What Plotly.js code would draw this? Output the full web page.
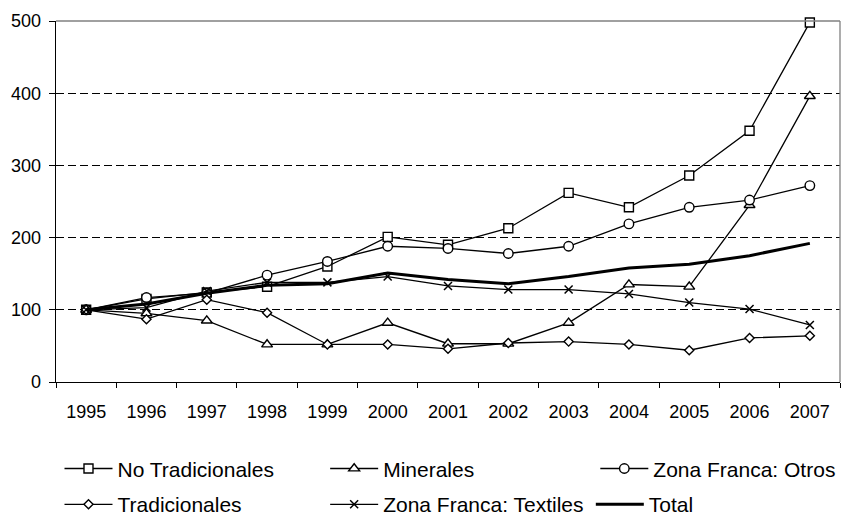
<!DOCTYPE html>
<html>
<head>
<meta charset="utf-8">
<script src="https://cdn.plot.ly/plotly-3.0.1.min.js"></script>
<style>html,body{margin:0;padding:0;background:#fff;}#chart{width:843px;height:527px;}</style>
</head>
<body>
<div id="chart"></div>
<script>
const years = ['1995','1996','1997','1998','1999','2000','2001','2002','2003','2004','2005','2006','2007'];
const noTradicionales = [100, 115, 124, 132, 160, 201, 190, 213, 262, 242, 286, 348, 498];
const minerales       = [100, 95, 85, 52, 52, 82, 53, 53, 82, 135, 132, 245, 396];
const zfOtros         = [100, 117, 123, 148, 167, 188, 185, 178, 188, 219, 242, 252, 272];
const tradicionales   = [100, 87, 114, 96, 52, 52, 46, 54, 56, 52, 44, 61, 64];
const zfTextiles      = [100, 103, 126, 138, 138, 146, 133, 128, 128, 122, 110, 101, 79];
const total           = [100, 108, 123, 134, 136, 151, 142, 136, 146, 158, 163, 175, 192];

const FONT = 'Liberation Sans, Arial, sans-serif';
const L0 = 56.5, PW = 785, B0 = 391, PH = 370;
function px(x){ return (x - L0) / PW; }
function py(y){ return (B0 - y) / PH; }

function mk(name, y, symbol, size, legend, lw) {
  return {
    type: 'scatter', mode: 'lines+markers', name: name, x: years, y: y,
    line: {color: '#000', width: 1.3},
    marker: {symbol: symbol, size: size, color: '#fff', line: {color: '#000', width: lw || 1.4}},
    legend: legend, cliponaxis: false
  };
}

const traces = [
  mk('No Tradicionales', noTradicionales, 'square', 9, 'legend'),
  mk('Minerales', minerales, 'triangle-up', 9.5, 'legend2'),
  mk('Zona Franca: Otros', zfOtros, 'circle', 9.5, 'legend3'),
  mk('Tradicionales', tradicionales, 'diamond', 7, 'legend4'),
  mk('Zona Franca: Textiles', zfTextiles, 'x-thin', 8, 'legend5', 1.5),
  {type: 'scatter', mode: 'lines', name: 'Total', x: years, y: total,
   line: {color: '#000', width: 3}, legend: 'legend6'}
];

function leg(xl, yc) {
  return {x: px(xl), y: py(yc), xanchor: 'left', yanchor: 'middle', xref: 'paper', yref: 'paper',
    font: {family: FONT, size: 21, color: '#000'}, bgcolor: 'rgba(0,0,0,0)', borderwidth: 0,
    itemwidth: 48, tracegroupgap: 0};
}

const layout = {
  width: 843, height: 527,
  margin: {l: 56.5, r: 1.5, t: 21, b: 136},
  paper_bgcolor: '#fff', plot_bgcolor: '#fff',
  font: {family: FONT, size: 18, color: '#000'},
  showlegend: true,
  legend: leg(60, 480),
  legend2: leg(326, 480),
  legend3: leg(596.5, 480),
  legend4: leg(60, 516.7),
  legend5: leg(326, 516.7),
  legend6: leg(592, 516.7),
  xaxis: {
    type: 'category', range: [-0.5, 12.5], tickson: 'boundaries',
    ticks: 'outside', ticklen: 5, tickcolor: '#000', tickwidth: 1,
    ticklabelstandoff: 13,
    showline: true, linecolor: '#000', linewidth: 1.3, showgrid: false, zeroline: false,
    tickfont: {family: FONT, size: 18, color: '#000'}, fixedrange: true
  },
  yaxis: {
    range: [0, 500], dtick: 100, tick0: 0,
    ticks: 'outside', ticklen: 6, tickcolor: '#000', tickwidth: 1,
    ticklabelstandoff: 4,
    showline: true, linecolor: '#000', linewidth: 1.3,
    showgrid: true, gridcolor: '#000', gridwidth: 1, griddash: '8px,4px',
    zeroline: false,
    tickfont: {family: FONT, size: 18, color: '#000'}, fixedrange: true
  },
  shapes: [
    {type: 'line', xref: 'paper', yref: 'paper', x0: 0, x1: 1, y0: 1, y1: 1, line: {color: '#808080', width: 1.3}},
    {type: 'line', xref: 'paper', yref: 'paper', x0: 1, x1: 1, y0: 0, y1: 1, line: {color: '#808080', width: 1.3}}
  ]
};

Plotly.newPlot('chart', traces, layout, {displayModeBar: false, staticPlot: true});
</script>
</body>
</html>
